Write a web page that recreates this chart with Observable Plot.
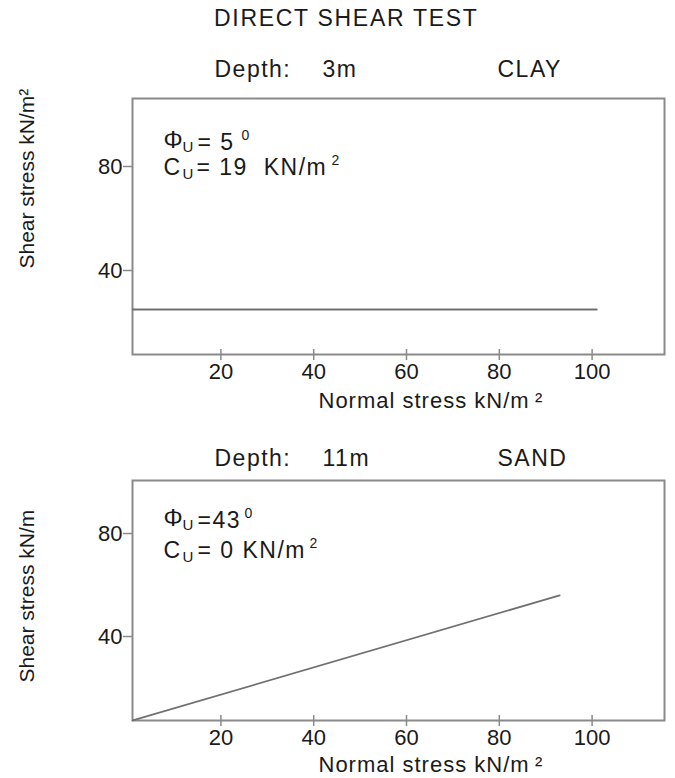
<!DOCTYPE html>
<html>
<head>
<meta charset="utf-8">
<script src="https://cdn.jsdelivr.net/npm/d3@7"></script>
<script src="https://cdn.jsdelivr.net/npm/@observablehq/plot@0.6"></script>
<style>
  body { margin: 0; background: #fff; font-family: "Liberation Sans", Arial, sans-serif; }
  #title { height: 40px; line-height: 36px; padding-left: 214px; font-size: 23px; letter-spacing: 1.7px; color: #1a1a1a; }
  svg { display: block; }
</style>
</head>
<body>
<div id="title"></div>
<div id="chart"></div>
<script>
const chartTitle = "DIRECT SHEAR TEST";
const soils = ["CLAY", "SAND"];
const depths = ["3m", "11m"];
const phiLabels = ["= 5", "=43"];
const cuLabels = ["= 19\u00a0\u00a0KN/m", "= 0 KN/m"];
const xTicks = [20, 40, 60, 80, 100];
const yTicks = [40, 80];
const clayNormal = [1, 101];
const clayShear = [25, 25];
const sandNormal = [1, 93];
const sandShear = [7.4, 56];
const yLabels = ["Shear stress kN/m\u00b2", "Shear stress kN/m"];
const xLabel = "Normal stress kN/m\u2009\u00b2";

document.getElementById("title").textContent = chartTitle;

const xDomain = [0.95, 115.6];

const cfgs = [
  {height: 380, mt: 58, mb: 66, yDomain: [7.69, 106.15], depthDy: -29, phiDy: 44, cuDy: 69, ylDy: -86, xlDy: 46,
   eqDx1: 65, sup1Dx: 109, eqDx2: 64, sup2Dx: 199},
  {height: 358, mt: 60, mb: 58, yDomain: [7.38, 100.6], depthDy: -22, phiDy: 40, cuDy: 70, ylDy: -38, xlDy: 44,
   eqDx1: 65, sup1Dx: 112, eqDx2: 65, sup2Dx: 177}
];

const ink = "#1a1a1a";
const gray = "#8a8a8a";
const spaced = new Map([
  ["Depth:", 1.5], ...depths.map(d => [d, 1.5]), ...soils.map(d => [d, 1.5]),
  ...phiLabels.map(d => [d, 1.5]), ...cuLabels.map(d => [d, 1.5]), [xLabel, 1]
]);

function T(text, dx, dy, fontSize, extra = {}) {
  return Plot.text([text], {
    text: d => d, frameAnchor: "top-left", dx, dy, fontSize,
    textAnchor: "start", lineAnchor: "middle", fill: ink, ...extra
  });
}

function panel(i) {
  const c = cfgs[i];
  const nx = i === 0 ? clayNormal : sandNormal;
  const ny = i === 0 ? clayShear : sandShear;
  const pts = nx.map((x, j) => ({normal: x, shear: ny[j]}));
  const svg = Plot.plot({
    width: 675, height: c.height,
    marginTop: c.mt, marginBottom: c.mb, marginLeft: 132, marginRight: 11,
    style: {fontFamily: '"Liberation Sans", Arial, sans-serif', color: ink, background: "#fff", overflow: "visible"},
    x: {domain: xDomain, label: null},
    y: {domain: c.yDomain, label: null},
    marks: [
      Plot.frame({stroke: gray, strokeWidth: 2}),
      Plot.line(pts, {x: "normal", y: "shear", stroke: "#707070", strokeWidth: 1.8}),
      Plot.axisY(yTicks, {tickSize: 9, tickPadding: 1, fontSize: 22, stroke: gray, strokeWidth: 1.5, label: null}),
      Plot.axisX(xTicks, {tickSize: 11, dy: -5, fill: "none", stroke: gray, strokeWidth: 1.5, label: null}),
      Plot.axisX(xTicks, {tickSize: 0, tickPadding: 9, fontSize: 22, label: null}),
      // header
      T("Depth:", 82, c.depthDy, 23),
      T(depths[i], 190, c.depthDy, 23),
      T(soils[i], 365, c.depthDy, 23),
      // phi line
      T("\u03a6", 31, c.phiDy - 2, 24),
      T("U", 50, c.phiDy + 5, 15),
      T(phiLabels[i], c.eqDx1, c.phiDy, 23),
      T("0", c.sup1Dx, c.phiDy - 7, 14),
      // cu line
      T("C", 31, c.cuDy, 23),
      T("U", 50, c.cuDy + 7, 15),
      T(cuLabels[i], c.eqDx2, c.cuDy, 23),
      T("2", c.sup2Dx, c.cuDy - 7, 14),
      // axis titles
      Plot.text([yLabels[i]], {text: d => d, frameAnchor: "bottom-left", dx: -105, dy: c.ylDy, rotate: -90,
        textAnchor: "start", lineAnchor: "middle", fontSize: 21, fill: ink}),
      T(xLabel, 186, 0, 22, {frameAnchor: "bottom-left", dy: c.xlDy})
    ]
  });
  d3.select(svg).selectAll("text").each(function() {
    const s = spaced.get(this.textContent);
    if (s) this.style.letterSpacing = s + "px";
  });
  return svg;
}

const chart = document.getElementById("chart");
chart.appendChild(panel(0));
chart.appendChild(panel(1));
</script>
</body>
</html>
